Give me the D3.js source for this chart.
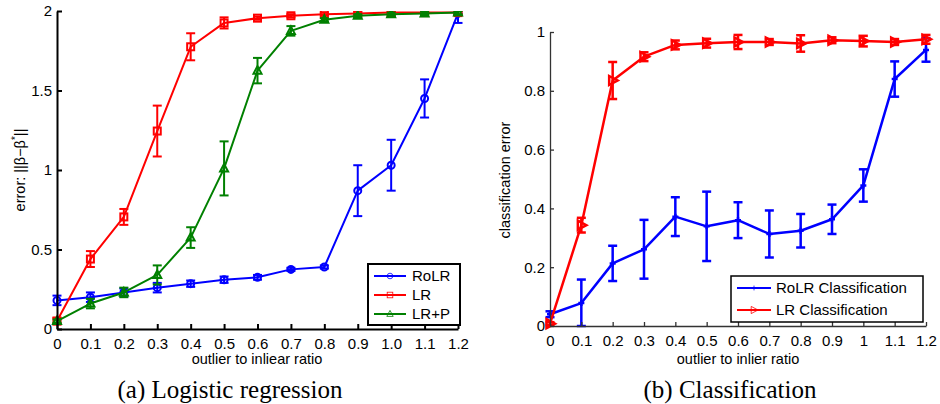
<!DOCTYPE html>
<html>
<head>
<meta charset="utf-8">
<script src="https://cdn.jsdelivr.net/npm/d3@7"></script>
<style>
  body { margin: 0; background: #fff; }
  text { font-family: "Liberation Sans", Arial, sans-serif; fill: #000; }
  .caption { font-family: "Liberation Serif", "Times New Roman", serif; font-size: 25px; }
</style>
</head>
<body>
<svg id="chart" width="940" height="404"></svg>
<script>
// x values shared by both panels
var ratio = [0, 0.1, 0.2, 0.3, 0.4, 0.5, 0.6, 0.7, 0.8, 0.9, 1.0, 1.1, 1.2];

// (a) logistic regression: error ||beta - beta*||
var rolrErr  = [0.18, 0.20, 0.23, 0.26, 0.285, 0.31, 0.325, 0.375, 0.39, 0.87, 1.03, 1.45, 1.985];
var rolrSd   = [0.03, 0.03, 0.025, 0.03, 0.02, 0.02, 0.015, 0.01, 0.01, 0.16, 0.16, 0.12, 0.06];
var lrErr    = [0.05, 0.44, 0.705, 1.245, 1.775, 1.925, 1.955, 1.97, 1.98, 1.985, 1.99, 1.99, 1.99];
var lrSd     = [0.02, 0.05, 0.05, 0.16, 0.085, 0.035, 0.01, 0.01, 0.01, 0.01, 0.01, 0.01, 0.01];
var lrpErr   = [0.05, 0.16, 0.23, 0.34, 0.575, 1.01, 1.625, 1.875, 1.945, 1.97, 1.98, 1.985, 1.99];
var lrpSd    = [0.01, 0.03, 0.03, 0.06, 0.065, 0.17, 0.08, 0.03, 0.01, 0.01, 0.01, 0.01, 0.01];

// (b) classification error
var rolrCls   = [0.04, 0.078, 0.213, 0.261, 0.372, 0.339, 0.36, 0.313, 0.324, 0.363, 0.478, 0.84, 0.939];
var rolrClsSd = [0.01, 0.08, 0.06, 0.1, 0.066, 0.118, 0.061, 0.08, 0.057, 0.05, 0.055, 0.06, 0.04];
var lrCls     = [0.008, 0.343, 0.835, 0.916, 0.956, 0.962, 0.966, 0.966, 0.961, 0.972, 0.969, 0.966, 0.975];
var lrClsSd   = [0.005, 0.025, 0.063, 0.015, 0.015, 0.015, 0.024, 0.01, 0.028, 0.01, 0.018, 0.01, 0.015];

var xTickA = ["0", "0.1", "0.2", "0.3", "0.4", "0.5", "0.6", "0.7", "0.8", "0.9", "1.0", "1.1", "1.2"];
var xTickB = ["0", "0.1", "0.2", "0.3", "0.4", "0.5", "0.6", "0.7", "0.8", "0.9", "1", "1.1", "1.2"];
var yTickA = [0, 0.5, 1, 1.5, 2];
var yTickB = [0, 0.2, 0.4, 0.6, 0.8, 1];

var svg = d3.select('#chart');

function zip(ys, sds) {
    return ratio.map(function (r, i) { return {x: r, y: ys[i], e: sds[i]}; });
}

// marker path generators, centred at 0,0
var markers = {
    circle: function (g) { g.append('circle').attr('r', 3.5); },
    square: function (g) { g.append('rect').attr('x', -3.5).attr('y', -3.5).attr('width', 7).attr('height', 7); },
    triangle: function (g) { g.append('path').attr('d', 'M0,-4.5L4,3L-4,3Z'); },
    right: function (g) { g.append('path').attr('d', 'M-3.5,-4.5L5,0L-3.5,4.5Z'); },
    plus: function (g) { g.append('path').attr('d', 'M-3,0H3M0,-3V3'); }
};

function drawAxes(g, x, y, xLabels, yTicks, style) {
    var xa = d3.axisBottom(x).tickValues(ratio).tickFormat(function (d, i) { return xLabels[i]; })
        .tickSizeInner(-style.tick).tickSizeOuter(0).tickPadding(9);
    var ya = d3.axisLeft(y).tickValues(yTicks).tickFormat(function (d) { return String(d); })
        .tickSizeInner(-style.tick).tickSizeOuter(0).tickPadding(5);

    var gx = g.append('g').attr('transform', 'translate(0,' + y.range()[0] + ')').call(xa);
    var gy = g.append('g').attr('transform', 'translate(' + x.range()[0] + ',0)').call(ya);

    [gx, gy].forEach(function (a) {
        a.selectAll('path.domain, line').attr('stroke', style.color).attr('stroke-width', style.width);
        a.selectAll('text').style('font-size', '15px').attr('fill', '#000');
        a.attr('font-family', null);
    });
}

// series are clipped to the plot box, like the original axes
function clipFor(id, x, y) {
    svg.append('clipPath').attr('id', id).append('rect')
        .attr('x', x.range()[0] - 10).attr('y', y.range()[1])
        .attr('width', x.range()[1] - x.range()[0] + 20)
        .attr('height', y.range()[0] - y.range()[1]);
    return 'url(#' + id + ')';
}

function drawSeries(g, x, y, data, color, shape, lw) {
    var s = g.append('g');
    // error bars
    var eb = s.selectAll('g.eb').data(data).enter().append('g').attr('class', 'eb')
        .attr('stroke', color).attr('stroke-width', lw).attr('fill', 'none');
    eb.append('line')
        .attr('x1', function (d) { return x(d.x); }).attr('x2', function (d) { return x(d.x); })
        .attr('y1', function (d) { return y(Math.max(0, d.y - d.e)); })
        .attr('y2', function (d) { return y(d.y + d.e); });
    [-1, 1].forEach(function (k) {
        eb.append('line')
            .attr('x1', function (d) { return x(d.x) - 4.5; }).attr('x2', function (d) { return x(d.x) + 4.5; })
            .attr('y1', function (d) { return y(k < 0 ? Math.max(0, d.y - d.e) : d.y + d.e); })
            .attr('y2', function (d) { return y(k < 0 ? Math.max(0, d.y - d.e) : d.y + d.e); });
    });

    s.append('path').datum(data)
        .attr('fill', 'none').attr('stroke', color).attr('stroke-width', lw)
        .attr('stroke-linejoin', 'round')
        .attr('d', d3.line().x(function (d) { return x(d.x); }).y(function (d) { return y(d.y); }));

    s.selectAll('g.mk').data(data).enter().append('g').attr('class', 'mk')
        .attr('transform', function (d) { return 'translate(' + x(d.x) + ',' + y(d.y) + ')'; })
        .attr('fill', 'none').attr('stroke', color).attr('stroke-width', lw)
        .each(function () { markers[shape](d3.select(this)); });
}

function drawLegend(g, box, items, fontSize, border) {
    var lg = g.append('g');
    lg.append('rect').attr('x', box.x).attr('y', box.y).attr('width', box.w).attr('height', box.h)
        .attr('fill', '#fff').attr('stroke', '#000').attr('stroke-width', border);
    items.forEach(function (it, i) {
        var yy = box.y + box.top + i * box.step;
        lg.append('line').attr('x1', box.x + box.l0).attr('x2', box.x + box.l1)
            .attr('y1', yy).attr('y2', yy).attr('stroke', it.color).attr('stroke-width', 2);
        var m = lg.append('g')
            .attr('fill', 'none').attr('stroke', it.color).attr('stroke-width', 1)
            .attr('transform', 'translate(' + (box.x + (box.l0 + box.l1) / 2) + ',' + yy + ') scale(0.8)');
        markers[it.shape](m);
        lg.append('text').attr('x', box.x + box.tx).attr('y', yy).attr('dy', '0.35em')
            .style('font-size', fontSize + 'px').text(it.name);
    });
}

// ---- panel (a)
var xa = d3.scaleLinear().domain([0, 1.2]).range([57, 458]);
var ya = d3.scaleLinear().domain([0, 2]).range([329, 11]);
var pa = svg.append('g');
var sa = pa.append('g').attr('clip-path', clipFor('clipA', xa, ya));
drawSeries(sa, xa, ya, zip(rolrErr, rolrSd), '#0000ff', 'circle', 2);
drawSeries(sa, xa, ya, zip(lrErr, lrSd), '#ff0000', 'square', 2);
drawSeries(sa, xa, ya, zip(lrpErr, lrpSd), '#008000', 'triangle', 2);
drawAxes(pa, xa, ya, xTickA, yTickA, {color: '#000', width: 2, tick: 5});

drawLegend(pa, {x: 368, y: 264, w: 92, h: 61, top: 12, step: 19, l0: 6, l1: 38, tx: 44},
    [{name: 'RoLR', color: '#0000ff', shape: 'circle'},
     {name: 'LR', color: '#ff0000', shape: 'square'},
     {name: 'LR+P', color: '#008000', shape: 'triangle'}], 15, 2);

pa.append('text').attr('x', 257).attr('y', 364).attr('text-anchor', 'middle')
    .style('font-size', '14.5px').text('outlier to inliear ratio');

var yl = pa.append('text').attr('transform', 'translate(25,170) rotate(-90)')
    .attr('text-anchor', 'middle').style('font-size', '14.5px');
yl.append('tspan').text('error: ||β−β');
yl.append('tspan').attr('dy', -6).style('font-size', '10px').text('*');
yl.append('tspan').attr('dy', 6).text('||');

// ---- panel (b)
var xb = d3.scaleLinear().domain([0, 1.2]).range([550, 926]);
var yb = d3.scaleLinear().domain([0, 1]).range([326, 32]);
var pb = svg.append('g');
var sb = pb.append('g');
drawSeries(sb, xb, yb, zip(rolrCls, rolrClsSd), '#0000ff', 'plus', 2.5);
drawSeries(sb, xb, yb, zip(lrCls, lrClsSd), '#ff0000', 'right', 2.5);
drawAxes(pb, xb, yb, xTickB, yTickB, {color: '#333', width: 1.3, tick: 4});

drawLegend(pb, {x: 731, y: 276, w: 192, h: 46, top: 12, step: 22, l0: 6, l1: 40, tx: 45},
    [{name: 'RoLR Classification', color: '#0000ff', shape: 'plus'},
     {name: 'LR Classification', color: '#ff0000', shape: 'right'}], 15, 1.5);

pb.append('text').attr('x', 738).attr('y', 364).attr('text-anchor', 'middle')
    .style('font-size', '14.5px').text('outlier to inlier ratio');
pb.append('text').attr('transform', 'translate(510,180) rotate(-90)')
    .attr('text-anchor', 'middle').style('font-size', '14.5px').text('classification error');

// captions
svg.append('text').attr('class', 'caption').attr('x', 230).attr('y', 398)
    .attr('text-anchor', 'middle').text('(a) Logistic regression');
svg.append('text').attr('class', 'caption').attr('x', 730).attr('y', 398)
    .attr('text-anchor', 'middle').text('(b) Classification');
</script>
</body>
</html>
